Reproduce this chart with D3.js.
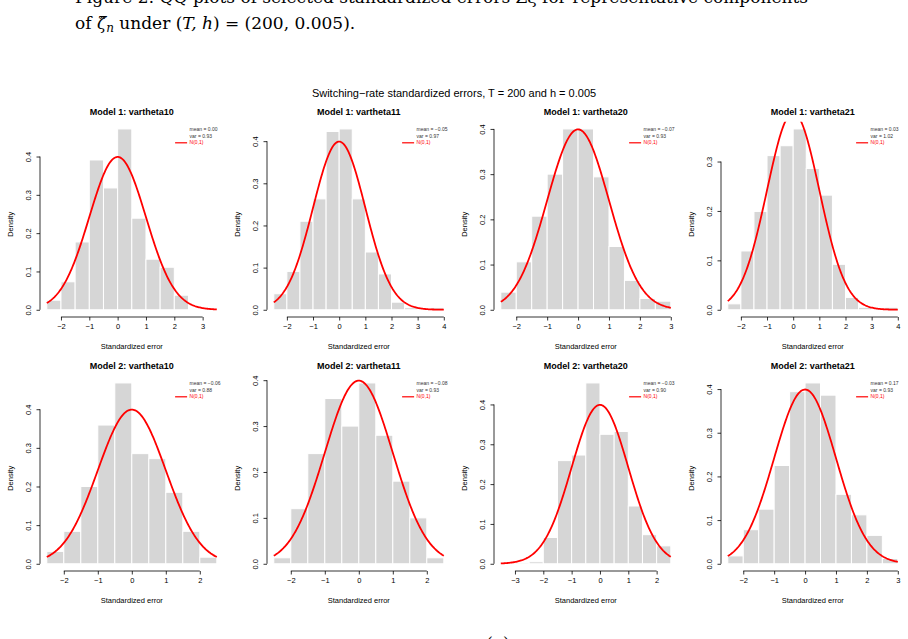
<!DOCTYPE html>
<html>
<head>
<meta charset="utf-8">
<script src="https://cdn.jsdelivr.net/npm/d3@7"></script>
<style>
  body { margin: 0; background: #fff; overflow: hidden; }
  svg { display: block; font-family: "Liberation Sans", Arial, sans-serif; }
</style>
</head>
<body>
<script>
// Panel titles, in reading order (row 1 = Model 1, row 2 = Model 2).
const panelTitles = [
  'Model 1: vartheta10', 'Model 1: vartheta11', 'Model 1: vartheta20', 'Model 1: vartheta21',
  'Model 2: vartheta10', 'Model 2: vartheta11', 'Model 2: vartheta20', 'Model 2: vartheta21'
];

// Histogram densities (bin width 0.5), first bin starts at binStarts[i].
const binStarts = [-2.5, -2.5, -2.5, -2.5, -2.5, -2.5, -3.0, -2.5];
const m1v10 = [0.025, 0.073, 0.177, 0.391, 0.318, 0.472, 0.239, 0.132, 0.111, 0.038];
const m1v11 = [0.038, 0.091, 0.210, 0.263, 0.423, 0.429, 0.263, 0.137, 0.085, 0.018, 0.005, 0, 0.005];
const m1v20 = [0.039, 0.106, 0.207, 0.300, 0.400, 0.400, 0.294, 0.140, 0.065, 0.025, 0.019];
const m1v21 = [0.012, 0.119, 0.199, 0.312, 0.332, 0.366, 0.286, 0.232, 0.092, 0.025, 0.005, 0, 0.005];
const m2v10 = [0.032, 0.084, 0.200, 0.359, 0.468, 0.285, 0.272, 0.185, 0.084, 0.017];
const m2v11 = [0.013, 0.120, 0.240, 0.360, 0.300, 0.394, 0.280, 0.180, 0.100, 0.013];
const m2v20 = [0.003, 0.005, 0.066, 0.259, 0.273, 0.454, 0.325, 0.332, 0.145, 0.073, 0.045];
const m2v21 = [0.018, 0.078, 0.125, 0.225, 0.394, 0.414, 0.386, 0.159, 0.112, 0.065, 0.012];
const densities = [m1v10, m1v11, m1v20, m1v21, m2v10, m2v11, m2v20, m2v21];

// x limits of each panel (also the range of the N(0,1) curve).
const xLimits = [[-2.5, 3.5], [-2.5, 4], [-2.5, 3], [-2.5, 4],
                 [-2.5, 2.5], [-2.5, 2.5], [-3.5, 2.5], [-2.5, 3]];

// Legend statistics.
const means = ['0.00', '\u22120.05', '\u22120.07', '0.03', '\u22120.06', '\u22120.08', '\u22120.03', '0.17'];
const variances = ['0.93', '0.97', '0.93', '1.02', '0.88', '0.93', '0.90', '0.93'];

const width = 908, height = 639;
const panelW = 227, rowH = 254;
const plotBox = {left: 40, right: 223.6, top: 121.7, bottom: 317};
const binWidth = 0.5;
const serif = '"DejaVu Serif", "Liberation Serif", serif';

const svg = d3.select('body').append('svg')
  .attr('width', width)
  .attr('height', height);

// Caption text from the page (partly cut by the crop).
svg.append('text')
  .attr('x', 75).attr('y', 3)
  .style('font-family', serif)
  .style('font-size', '17px')
  .text('Figure 2: QQ plots of selected standardized errors Z\u03BE for representative components');
svg.append('text')
  .attr('x', 75).attr('y', 29)
  .style('font-family', serif)
  .style('font-size', '17px')
  .html('of <tspan font-style="italic">\u03B6\u0302</tspan><tspan font-style="italic" font-size="12px" dy="3">n</tspan><tspan dy="-3"> under (</tspan><tspan font-style="italic">T, h</tspan>) = (200, 0.005).');
svg.append('text')
  .attr('x', 498).attr('y', 649)
  .attr('text-anchor', 'middle')
  .style('font-family', serif)
  .style('font-size', '17px')
  .text('(a)');

// Main title.
svg.append('text')
  .attr('x', width / 2).attr('y', 97)
  .attr('text-anchor', 'middle')
  .style('font-size', '11px')
  .text('Switching\u2212rate standardized errors, T = 200 and h = 0.005');

const dnorm = (x) => Math.exp(-x * x / 2) / Math.sqrt(2 * Math.PI);
const fmtY = d3.format('.1f');
const fmtX = d3.format('d');

densities.forEach((dens, i) => {
  const col = i % 4, row = Math.floor(i / 4);
  const g = svg.append('g')
    .attr('transform', 'translate(' + (col * panelW) + ',' + (row * rowH) + ')');

  // R-style 4% padding around xlim and ylim.
  const [x0, x1] = xLimits[i];
  const xPad = (x1 - x0) * 0.04;
  const xScale = d3.scaleLinear()
    .domain([x0 - xPad, x1 + xPad])
    .range([plotBox.left, plotBox.right]);
  const yMax = d3.max(dens);
  const yScale = d3.scaleLinear()
    .domain([-0.04 * yMax, 1.04 * yMax])
    .range([plotBox.bottom, plotBox.top]);

  const clipId = 'clip' + i;
  g.append('clipPath').attr('id', clipId)
    .append('rect')
    .attr('x', plotBox.left).attr('y', plotBox.top)
    .attr('width', plotBox.right - plotBox.left)
    .attr('height', plotBox.bottom - plotBox.top);

  // Histogram bars.
  g.append('g').selectAll('rect')
    .data(dens)
    .enter()
    .append('rect')
    .attr('x', (d, k) => xScale(binStarts[i] + k * binWidth))
    .attr('width', xScale(binWidth) - xScale(0))
    .attr('y', (d) => yScale(d))
    .attr('height', (d) => yScale(0) - yScale(d))
    .style('fill', '#d6d6d6')
    .style('stroke', '#ffffff')
    .style('stroke-width', 1);

  // N(0,1) curve.
  const curvePts = d3.range(0, 201).map((k) => {
    const x = x0 + (x1 - x0) * k / 200;
    return [x, dnorm(x)];
  });
  g.append('path')
    .datum(curvePts)
    .attr('clip-path', 'url(#' + clipId + ')')
    .attr('d', d3.line().x((d) => xScale(d[0])).y((d) => yScale(d[1])))
    .style('fill', 'none')
    .style('stroke', '#ff0000')
    .style('stroke-width', 1.8);

  // Axes.
  const xTicks = d3.range(Math.ceil(x0), Math.floor(x1) + 1);
  const xAxis = d3.axisBottom(xScale)
    .tickValues(xTicks)
    .tickFormat(fmtX)
    .tickSizeInner(3.5)
    .tickSizeOuter(0)
    .tickPadding(3);
  const gx = g.append('g')
    .attr('transform', 'translate(0,' + plotBox.bottom + ')')
    .call(xAxis);
  gx.select('.domain')
    .attr('d', 'M' + xScale(xTicks[0]) + ',0H' + xScale(xTicks[xTicks.length - 1]));

  const yTicks = d3.range(0, 1.04 * yMax + 1e-9, 0.1);
  const yAxis = d3.axisLeft(yScale)
    .tickValues(yTicks)
    .tickFormat(fmtY)
    .tickSizeInner(3.5)
    .tickSizeOuter(0);
  const gy = g.append('g')
    .attr('transform', 'translate(' + plotBox.left + ',0)')
    .call(yAxis);
  gy.select('.domain')
    .attr('d', 'M0,' + yScale(yTicks[0]) + 'V' + yScale(yTicks[yTicks.length - 1]));
  gy.selectAll('.tick text')
    .attr('x', 0).attr('dy', 0)
    .attr('transform', 'translate(-9.5,0) rotate(-90)')
    .attr('text-anchor', 'middle');

  [gx, gy].forEach((a) => {
    a.selectAll('text').style('font-size', '7.5px').style('font-family', null).attr('fill', '#000');
    a.selectAll('line, path').attr('stroke', '#000').attr('stroke-width', 0.8);
  });

  // Axis titles and panel title.
  const midX = (plotBox.left + plotBox.right) / 2;
  g.append('text')
    .attr('x', midX).attr('y', plotBox.bottom + 31.5)
    .attr('text-anchor', 'middle')
    .style('font-size', '7.5px')
    .text('Standardized error');
  g.append('text')
    .attr('transform', 'translate(12.5,' + ((plotBox.top + plotBox.bottom) / 2 + 5) + ') rotate(-90)')
    .attr('text-anchor', 'middle')
    .style('font-size', '7.5px')
    .text('Density');
  g.append('text')
    .attr('x', midX).attr('y', 114.5)
    .attr('text-anchor', 'middle')
    .style('font-size', '9px')
    .style('font-weight', 'bold')
    .text(panelTitles[i]);

  // Legend (top right).
  const lx = plotBox.right - 34;
  const legendRows = ['mean = ' + means[i], 'var = ' + variances[i], 'N(0,1)'];
  legendRows.forEach((t, k) => {
    g.append('text')
      .attr('x', lx).attr('y', 131 + k * 6.7)
      .style('font-size', '5px')
      .attr('fill', k === 2 ? '#ff0000' : '#333')
      .text(t);
  });
  g.append('line')
    .attr('x1', lx - 14.5).attr('x2', lx - 2.5)
    .attr('y1', 142.8).attr('y2', 142.8)
    .attr('stroke', '#ff0000')
    .attr('stroke-width', 1.2);
});
</script>
</body>
</html>
